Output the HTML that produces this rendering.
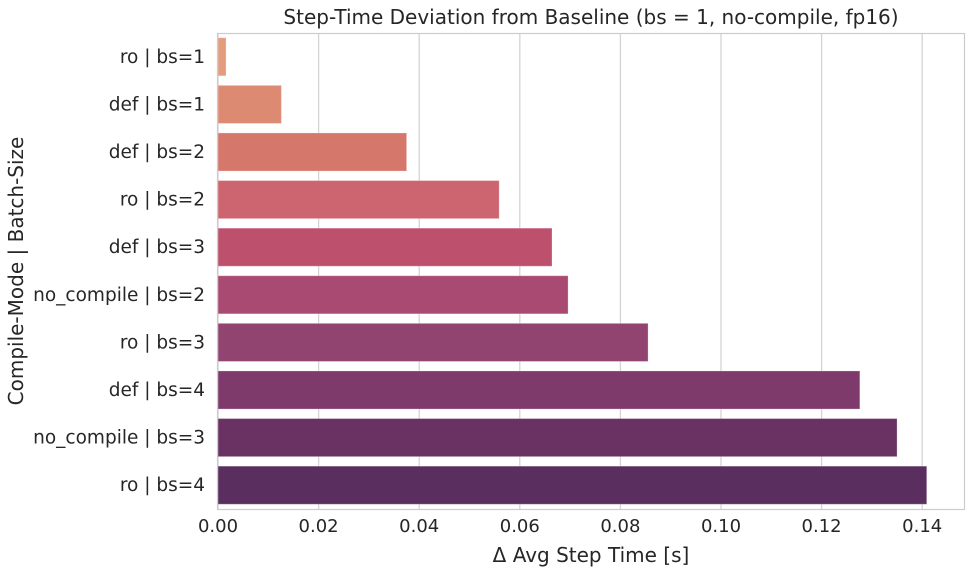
<!DOCTYPE html>
<html><head><meta charset="utf-8"><style>
body{margin:0;background:#fff;font-family:"Liberation Sans","DejaVu Sans",sans-serif;}
svg text{font-family:"DejaVu Sans","Liberation Sans",sans-serif;fill:#262626;}
</style></head><body>
<svg id="chart" width="970" height="568" xmlns="http://www.w3.org/2000/svg">
<text x="591" y="24" font-size="20" text-anchor="middle">Step-Time Deviation from Baseline (bs = 1, no-compile, fp16)</text>
<g id="grid"></g><g id="bars"></g><g id="ticks"></g>
<rect x="217.5" y="33.5" width="747" height="476" fill="none" stroke="#cccccc" stroke-width="1.2"/>
<text x="591" y="562" font-size="20" text-anchor="middle">Δ Avg Step Time [s]</text>
<text transform="translate(23,271) rotate(-90)" font-size="20" text-anchor="middle">Compile-Mode | Batch-Size</text>
</svg>
<script>
const categories=["ro | bs=1","def | bs=1","def | bs=2","ro | bs=2","def | bs=3","no_compile | bs=2","ro | bs=3","def | bs=4","no_compile | bs=3","ro | bs=4"];
const values=[0.0016,0.0126,0.0375,0.0559,0.0664,0.0696,0.0855,0.1276,0.1350,0.1409];
const colors=["#e39c7e","#dd8a72","#d6776c","#cd6570","#bd506c","#a84a71","#924470","#7f3a6c","#6a3263","#5a2e5e"];
const xTicks=[0,0.02,0.04,0.06,0.08,0.10,0.12,0.14];
const xTickLabels=["0.00","0.02","0.04","0.06","0.08","0.10","0.12","0.14"];
const NS="http://www.w3.org/2000/svg";
const L=218,T=33,H=476,PR=5030;
const xs=v=>L+v*PR;
const band=H/categories.length;
const ys=i=>T+band*i;
function mk(t,a,p){const e=document.createElementNS(NS,t);for(const k in a)e.setAttribute(k,a[k]);p.appendChild(e);return e;}
const grid=document.getElementById('grid'),bars=document.getElementById('bars'),ticks=document.getElementById('ticks');
xTicks.forEach((v,i)=>{
 const g=mk('line',{x1:xs(v),x2:xs(v),y1:T,y2:T+H,stroke:'#d4d4d4','stroke-width':1.3},grid);
 
 
 const t=mk('text',{x:xs(v),y:532,'font-size':18,'text-anchor':'middle'},ticks);
 t.textContent=xTickLabels[i];
 
 
});
categories.forEach((c,i)=>{
 const y=ys(i)+band*0.1;
 const r=mk('rect',{x:L,y:y,width:xs(values[i])-L,height:band*0.8,fill:colors[i],stroke:'rgba(255,255,255,0.25)','stroke-width':1},bars);
 
 
 const t=mk('text',{x:205,y:ys(i)+band/2+6,'font-size':18.5,'text-anchor':'end'},ticks);
 t.textContent=c;
 
 
});
</script>
</body></html>
